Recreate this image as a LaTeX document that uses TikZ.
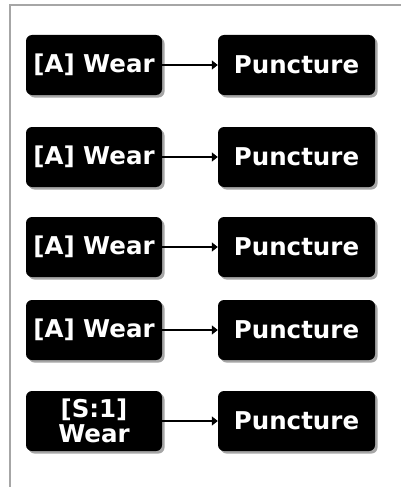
\documentclass[tikz,border=0pt]{standalone}
\usepackage{fontspec}
\setmainfont{DejaVu Sans}
\usetikzlibrary{arrows.meta,shadows}
\begin{document}
\begin{tikzpicture}[x=1pt,y=-1pt,
  box/.style={fill=black,rounded corners=6pt,text=white,font=\bfseries\fontsize{24.5}{25}\selectfont,
    align=center,inner sep=0pt,
    drop shadow={shadow xshift=2.5pt,shadow yshift=-2.5pt,fill=black!35,opacity=1}},
  wearbox/.style={box,minimum width=136pt,minimum height=60pt},
  punctbox/.style={box,minimum width=157pt,minimum height=60pt},
  link/.style={draw=black,line width=1.3pt,-{Triangle[length=6pt,width=9pt]}}]
\useasboundingbox (0,0) rectangle (401,487);
\fill[white] (0,0) rectangle (401,487);
\draw[color=black!35,line width=2pt] (10,487) -- (10,5) -- (401,5);
\foreach \i/\y in {1/65,2/157,3/247,4/330} {
  \node[wearbox] (w\i) at (94,\y) {[A] Wear};
  \node[punctbox] (p\i) at (296.5,\y) {Puncture};
  \draw[link] (w\i) -- (p\i);
}
\node[wearbox] (w5) at (94,421) {[S:1]\\Wear};
\node[punctbox] (p5) at (296.5,421) {Puncture};
\draw[link] (w5) -- (p5);
\end{tikzpicture}
\end{document}
